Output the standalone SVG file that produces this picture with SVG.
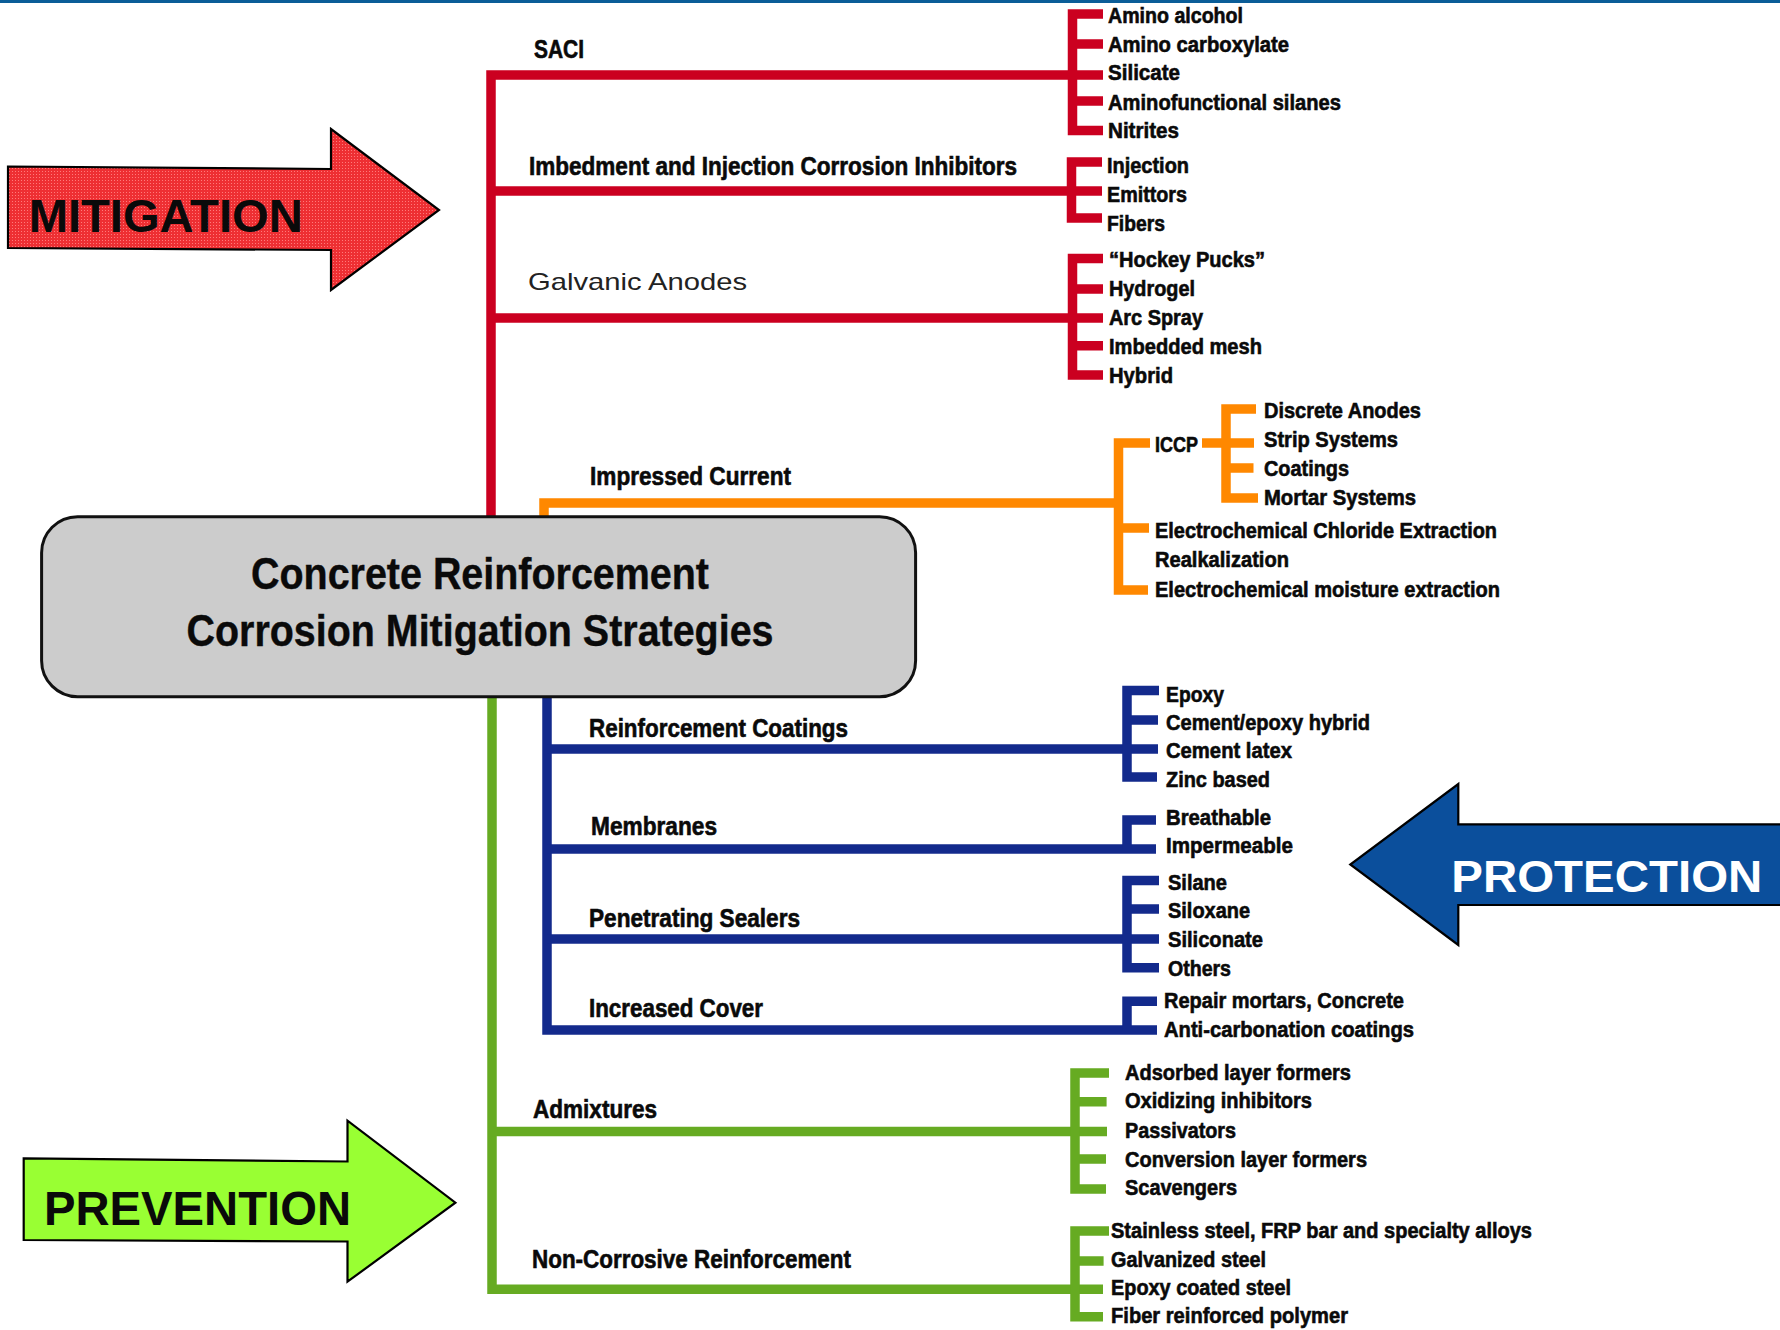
<svg xmlns="http://www.w3.org/2000/svg" width="1780" height="1330" viewBox="0 0 1780 1330">
<style>
text{font-family:"Liberation Sans Narrow","Liberation Sans",Arial,sans-serif;font-weight:bold;fill:#0a0a0a}
.cat{font-size:25px;stroke:#0a0a0a;stroke-width:0.6}
.item{font-size:22px;stroke:#0a0a0a;stroke-width:0.6}
.title{font-size:44px;text-anchor:middle;stroke:#0a0a0a;stroke-width:0.4}
.reg{font-family:"Liberation Sans",Arial,sans-serif;font-weight:normal;font-size:24px;fill:#222}
.big{font-family:"Liberation Sans",Arial,sans-serif;font-weight:bold}
.ln{fill:none;stroke-width:9.5;stroke-linejoin:miter;stroke-linecap:butt}
.r{stroke:#cb0020}.o{stroke:#ff8800}.b{stroke:#132a8c}.g{stroke:#66ab22}
.arrow{stroke:#000;stroke-width:2.2;stroke-linejoin:miter}
</style>
<defs>
<pattern id="redtex" width="3" height="3" patternUnits="userSpaceOnUse">
<rect width="3" height="3" fill="#ee2f33"/>
<rect width="1" height="1" fill="#ff7a7a"/>
</pattern>
</defs>
<rect x="0" y="0" width="1780" height="3" fill="#0b5d98"/>
<g id="connectors">
<path class="ln r" d="M491 517V75H1103"/>
<path class="ln r" d="M491 191H1102"/>
<path class="ln r" d="M491 318H1103"/>
<path class="ln r" d="M1103 14H1072.5V130.5H1103M1072.5 44H1103M1072.5 101H1103"/>
<path class="ln r" d="M1102 162H1071.5V218H1102"/>
<path class="ln r" d="M1103 258.5H1072.5V375H1103M1072.5 289H1103M1072.5 345.7H1103"/>
<path class="ln o" d="M544 517V503H1123"/>
<path class="ln o" d="M1150 443H1118.5V590H1148M1118.5 528H1149"/>
<path class="ln o" d="M1202 443H1254"/>
<path class="ln o" d="M1256 409H1226V498H1258M1226 468H1253.5"/>
<path class="ln b" d="M547 697V1030H1157"/>
<path class="ln b" d="M1157 1001.3H1127V1030"/>
<path class="ln b" d="M547 749H1158"/>
<path class="ln b" d="M1159 690.5H1127V777H1157M1127 720H1158"/>
<path class="ln b" d="M547 849H1156"/>
<path class="ln b" d="M1156 820H1127V849"/>
<path class="ln b" d="M547 939H1159"/>
<path class="ln b" d="M1159 880.5H1127V967.7H1159M1127 909H1159"/>
<path class="ln g" d="M492 697V1289.3H1103"/>
<path class="ln g" d="M492 1131.5H1107"/>
<path class="ln g" d="M1109 1073H1075V1189H1106M1075 1101.7H1106.6M1075 1159H1106"/>
<path class="ln g" d="M1109 1231H1075V1316.7H1103M1075 1261H1103.6"/>
</g>
<g id="mitigation-arrow">
<polygon class="arrow" fill="url(#redtex)" points="8,166.5 331,169 331,129 439,210 331,290 331,250 8,248"/>
<text class="big" x="28.7" y="232.3" font-size="46.5" textLength="274" lengthAdjust="spacingAndGlyphs">MITIGATION</text>
</g>
<g id="prevention-arrow">
<polygon class="arrow" fill="#99ff33" points="23.7,1158.3 347.5,1161.5 347.5,1120.7 455.4,1202.7 347.5,1281.7 347.5,1241.5 23.7,1240"/>
<text class="big" x="44" y="1225" font-size="47.5" textLength="307" lengthAdjust="spacingAndGlyphs">PREVENTION</text>
</g>
<g id="protection-arrow">
<polygon class="arrow" fill="#0b4f9c" points="1782,824.3 1458.3,824.3 1458.3,784 1350.3,864.5 1458.3,945 1458.3,905 1782,905"/>
<text class="big" x="1451.3" y="891.7" font-size="45" style="fill:#fff" textLength="311" lengthAdjust="spacingAndGlyphs">PROTECTION</text>
</g>
<g id="central">
<rect x="41.6" y="516.7" width="874" height="180" rx="36" ry="36" fill="#cccccc" stroke="#111" stroke-width="3"/>
<text class="title" x="480" y="589" textLength="458" lengthAdjust="spacingAndGlyphs">Concrete Reinforcement</text>
<text class="title" x="480" y="646" textLength="587" lengthAdjust="spacingAndGlyphs">Corrosion Mitigation Strategies</text>
</g>
<g id="saci">
<text class="cat" x="534" y="58.3" textLength="50" lengthAdjust="spacingAndGlyphs">SACI</text>
<text class="item" x="1108" y="23.3" textLength="135" lengthAdjust="spacingAndGlyphs">Amino alcohol</text>
<text class="item" x="1108" y="51.7" textLength="181" lengthAdjust="spacingAndGlyphs">Amino carboxylate</text>
<text class="item" x="1108" y="80" textLength="72" lengthAdjust="spacingAndGlyphs">Silicate</text>
<text class="item" x="1108" y="110" textLength="233" lengthAdjust="spacingAndGlyphs">Aminofunctional silanes</text>
<text class="item" x="1108" y="138.3" textLength="71" lengthAdjust="spacingAndGlyphs">Nitrites</text>
</g>
<g id="imbedment">
<text class="cat" x="529" y="175" textLength="488" lengthAdjust="spacingAndGlyphs">Imbedment and Injection Corrosion Inhibitors</text>
<text class="item" x="1107" y="173.3" textLength="82" lengthAdjust="spacingAndGlyphs">Injection</text>
<text class="item" x="1107" y="201.7" textLength="80" lengthAdjust="spacingAndGlyphs">Emittors</text>
<text class="item" x="1107" y="230.7" textLength="58" lengthAdjust="spacingAndGlyphs">Fibers</text>
</g>
<g id="galvanic">
<text class="reg" x="528" y="290" textLength="219" lengthAdjust="spacingAndGlyphs">Galvanic Anodes</text>
<text class="item" x="1109" y="267" textLength="156" lengthAdjust="spacingAndGlyphs">“Hockey Pucks”</text>
<text class="item" x="1109" y="296" textLength="86" lengthAdjust="spacingAndGlyphs">Hydrogel</text>
<text class="item" x="1109" y="325" textLength="94" lengthAdjust="spacingAndGlyphs">Arc Spray</text>
<text class="item" x="1109" y="354" textLength="153" lengthAdjust="spacingAndGlyphs">Imbedded mesh</text>
<text class="item" x="1109" y="382.7" textLength="64" lengthAdjust="spacingAndGlyphs">Hybrid</text>
</g>
<g id="impressed">
<text class="cat" x="590" y="485" textLength="201" lengthAdjust="spacingAndGlyphs">Impressed Current</text>
<text class="item" x="1155" y="451.7" textLength="43" lengthAdjust="spacingAndGlyphs">ICCP</text>
<text class="item" x="1264" y="418.3" textLength="157" lengthAdjust="spacingAndGlyphs">Discrete Anodes</text>
<text class="item" x="1264" y="446.7" textLength="134" lengthAdjust="spacingAndGlyphs">Strip Systems</text>
<text class="item" x="1264" y="476" textLength="85" lengthAdjust="spacingAndGlyphs">Coatings</text>
<text class="item" x="1264" y="505" textLength="152" lengthAdjust="spacingAndGlyphs">Mortar Systems</text>
<text class="item" x="1155" y="538.3" textLength="342" lengthAdjust="spacingAndGlyphs">Electrochemical Chloride Extraction</text>
<text class="item" x="1155" y="567.3" textLength="134" lengthAdjust="spacingAndGlyphs">Realkalization</text>
<text class="item" x="1155" y="596.7" textLength="345" lengthAdjust="spacingAndGlyphs">Electrochemical moisture extraction</text>
</g>
<g id="reinforcement-coatings">
<text class="cat" x="589" y="736.7" textLength="259" lengthAdjust="spacingAndGlyphs">Reinforcement Coatings</text>
<text class="item" x="1166" y="701.7" textLength="58" lengthAdjust="spacingAndGlyphs">Epoxy</text>
<text class="item" x="1166" y="730" textLength="204" lengthAdjust="spacingAndGlyphs">Cement/epoxy hybrid</text>
<text class="item" x="1166" y="758.3" textLength="126" lengthAdjust="spacingAndGlyphs">Cement latex</text>
<text class="item" x="1166" y="787.3" textLength="104" lengthAdjust="spacingAndGlyphs">Zinc based</text>
</g>
<g id="membranes">
<text class="cat" x="591" y="835" textLength="126" lengthAdjust="spacingAndGlyphs">Membranes</text>
<text class="item" x="1166" y="825" textLength="105" lengthAdjust="spacingAndGlyphs">Breathable</text>
<text class="item" x="1166" y="853.3" textLength="127" lengthAdjust="spacingAndGlyphs">Impermeable</text>
</g>
<g id="sealers">
<text class="cat" x="589" y="926.7" textLength="211" lengthAdjust="spacingAndGlyphs">Penetrating Sealers</text>
<text class="item" x="1168" y="890" textLength="59" lengthAdjust="spacingAndGlyphs">Silane</text>
<text class="item" x="1168" y="918.3" textLength="82" lengthAdjust="spacingAndGlyphs">Siloxane</text>
<text class="item" x="1168" y="946.7" textLength="95" lengthAdjust="spacingAndGlyphs">Siliconate</text>
<text class="item" x="1168" y="976" textLength="63" lengthAdjust="spacingAndGlyphs">Others</text>
</g>
<g id="cover">
<text class="cat" x="589" y="1016.7" textLength="174" lengthAdjust="spacingAndGlyphs">Increased Cover</text>
<text class="item" x="1164" y="1008.3" textLength="240" lengthAdjust="spacingAndGlyphs">Repair mortars, Concrete</text>
<text class="item" x="1164" y="1036.7" textLength="250" lengthAdjust="spacingAndGlyphs">Anti-carbonation coatings</text>
</g>
<g id="admixtures">
<text class="cat" x="533" y="1118.3" textLength="124" lengthAdjust="spacingAndGlyphs">Admixtures</text>
<text class="item" x="1125" y="1080" textLength="226" lengthAdjust="spacingAndGlyphs">Adsorbed layer formers</text>
<text class="item" x="1125" y="1108.3" textLength="187" lengthAdjust="spacingAndGlyphs">Oxidizing inhibitors</text>
<text class="item" x="1125" y="1138.3" textLength="111" lengthAdjust="spacingAndGlyphs">Passivators</text>
<text class="item" x="1125" y="1166.7" textLength="242" lengthAdjust="spacingAndGlyphs">Conversion layer formers</text>
<text class="item" x="1125" y="1195" textLength="112" lengthAdjust="spacingAndGlyphs">Scavengers</text>
</g>
<g id="non-corrosive">
<text class="cat" x="532" y="1268.3" textLength="319" lengthAdjust="spacingAndGlyphs">Non-Corrosive Reinforcement</text>
<text class="item" x="1111" y="1238.3" textLength="421" lengthAdjust="spacingAndGlyphs">Stainless steel, FRP bar and specialty alloys</text>
<text class="item" x="1111" y="1266.7" textLength="155" lengthAdjust="spacingAndGlyphs">Galvanized steel</text>
<text class="item" x="1111" y="1295" textLength="180" lengthAdjust="spacingAndGlyphs">Epoxy coated steel</text>
<text class="item" x="1111" y="1323.3" textLength="237" lengthAdjust="spacingAndGlyphs">Fiber reinforced polymer</text>
</g>
</svg>
